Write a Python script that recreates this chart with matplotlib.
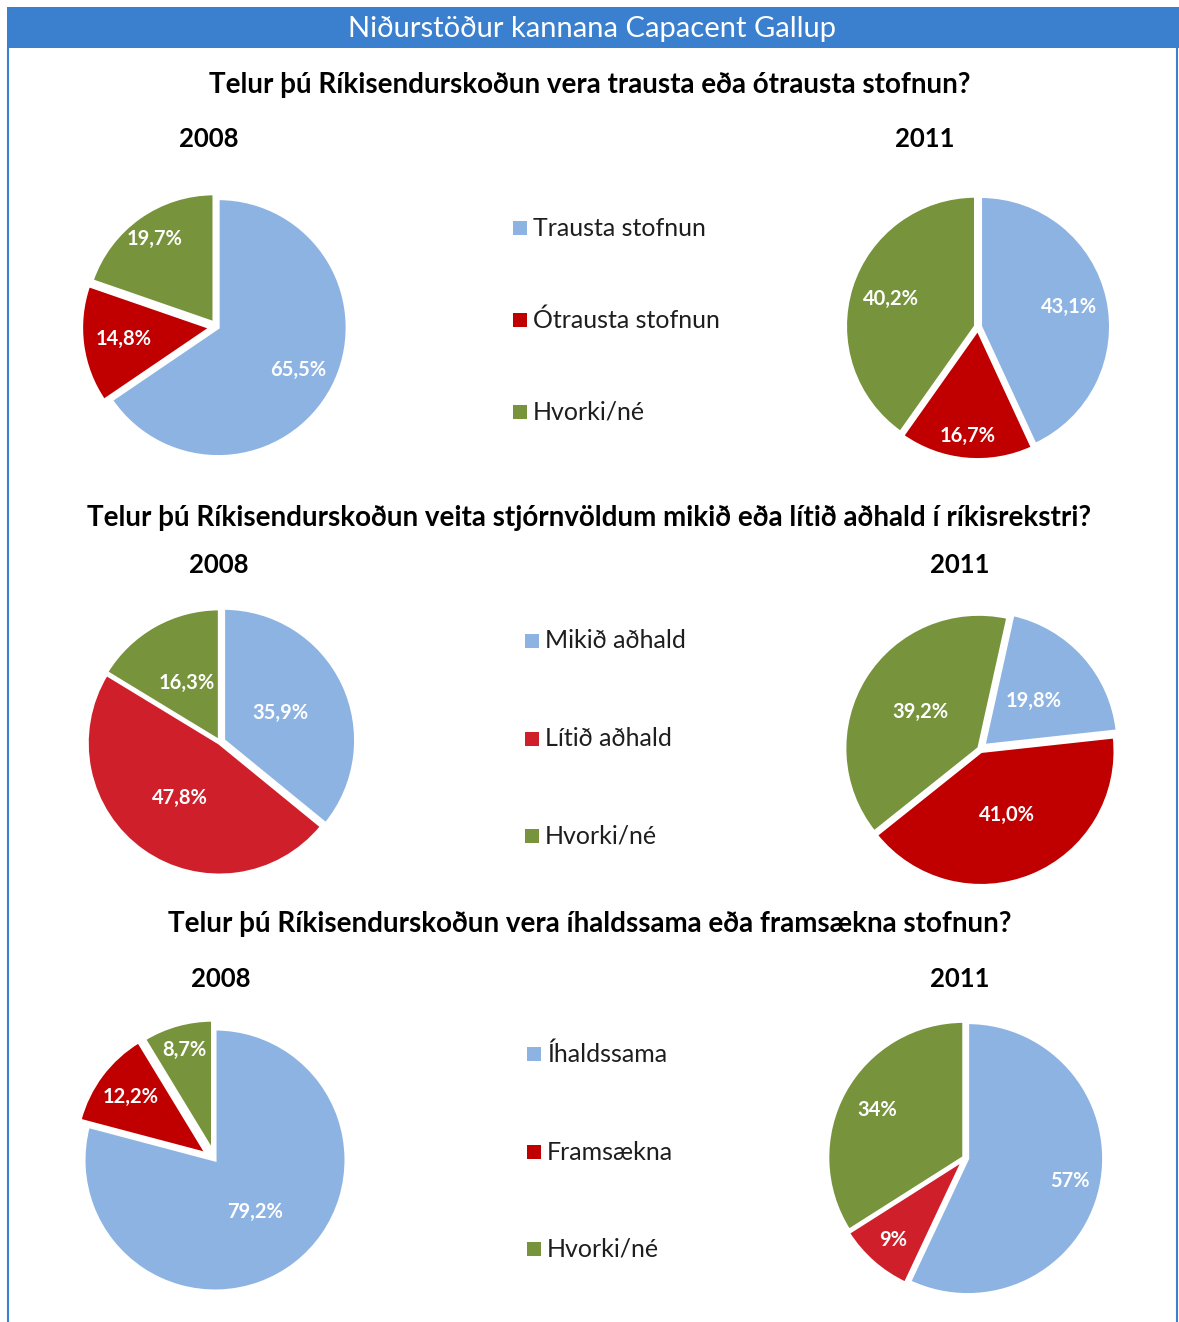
import matplotlib.pyplot as plt
from matplotlib.patches import Rectangle
import numpy as np

plt.rcParams['font.family'] = ['Lato', 'DejaVu Sans']

W, H = 1179, 1322

header = 'Niðurstöður kannana Capacent Gallup'
questions = [
    'Telur þú Ríkisendurskoðun vera trausta eða ótrausta stofnun?',
    'Telur þú Ríkisendurskoðun veita stjórnvöldum mikið eða lítið aðhald í ríkisrekstri?',
    'Telur þú Ríkisendurskoðun vera íhaldssama eða framsækna stofnun?',
]
years = ['2008', '2011']
legend_labels = [
    ['Trausta stofnun', 'Ótrausta stofnun', 'Hvorki/né'],
    ['Mikið aðhald', 'Lítið aðhald', 'Hvorki/né'],
    ['Íhaldssama', 'Framsækna', 'Hvorki/né'],
]

# survey results, percent (2008, 2011)
q1_2008 = [65.5, 14.8, 19.7]
q1_2011 = [43.1, 16.7, 40.2]
q2_2008 = [35.9, 47.8, 16.3]
q2_2011 = [19.8, 41.0, 39.2]
q3_2008 = [79.2, 12.2, 8.7]
q3_2011 = [57, 9, 34]

q3_2011_labels = ['57%', '9%', '34%']

BLUE = '#8DB3E2'
RED = '#C00000'
RED2 = '#CF1F2A'
GREEN = '#77933C'
HEAD = '#3A80CF'

fig = plt.figure(figsize=(W / 100, H / 100), dpi=100)
ax = fig.add_axes([0, 0, 1, 1])


def fmt(v):
    return ('%.1f%%' % v).replace('.', ',')


def draw_pie(vals, labels, cx, cy, r, start, explode, colors, dists):
    # explode is given as fraction of radius, pie wants data units
    wedges, _ = ax.pie(vals, colors=colors, startangle=start, counterclock=False,
                       explode=[e * r for e in explode], center=(cx, H - cy), radius=r,
                       frame=True, wedgeprops=dict(edgecolor='white', linewidth=2.2))
    for w, lab, d in zip(wedges, labels, dists):
        mid = np.deg2rad((w.theta1 + w.theta2) / 2)
        x = w.center[0] + d * r * np.cos(mid)
        y = w.center[1] + d * r * np.sin(mid)
        ax.text(x, y, lab, color='white', fontsize=14.5, fontweight='bold',
                ha='center', va='center')
    return wedges


rows = [
    dict(d08=q1_2008, d11=q1_2011, l11=[fmt(v) for v in q1_2011],
         c08=(217, 327), r08=129, c11=(978, 327), r11=130, s11=90,
         e08=[0.01, 0.05, 0.04], e11=[0.02, 0.02, 0.02],
         col08=[BLUE, RED, GREEN], col11=[BLUE, RED, GREEN],
         dist08=[0.70, 0.68, 0.80], dist11=[0.70, 0.82, 0.68],
         ty=85, yy=139, yx=(209, 925), lx=513, ly=(228, 320, 412), lcol=[BLUE, RED, GREEN]),
    dict(d08=q2_2008, d11=q2_2011, l11=[fmt(v) for v in q2_2011],
         c08=(220, 742), r08=132, c11=(980, 749), r11=134, s11=77.5,
         e08=[0.03, 0.01, 0.01], e11=[0.04, 0.02, 0.01],
         col08=[BLUE, RED2, GREEN], col11=[BLUE, RED, GREEN],
         dist08=[0.48, 0.51, 0.50], dist11=[0.50, 0.51, 0.51],
         ty=518, yy=565, yx=(219, 960), lx=525, ly=(641, 739, 836), lcol=[BLUE, RED2, GREEN]),
    dict(d08=q3_2008, d11=q3_2011, l11=q3_2011_labels,
         c08=(215, 1160), r08=131, c11=(965, 1158), r11=136, s11=90,
         e08=[0.0, 0.08, 0.07], e11=[0.02, 0.02, 0.01],
         col08=[BLUE, RED, GREEN], col11=[BLUE, RED2, GREEN],
         dist08=[0.50, 0.72, 0.80], dist11=[0.77, 0.78, 0.73],
         ty=924, yy=979, yx=(221, 960), lx=527, ly=(1054, 1152, 1249), lcol=[BLUE, RED, GREEN]),
]

for q, row, legs in zip(questions, rows, legend_labels):
    draw_pie(row['d08'], [fmt(v) for v in row['d08']], row['c08'][0], row['c08'][1],
             row['r08'], 90, row['e08'], row['col08'], row['dist08'])
    draw_pie(row['d11'], row['l11'], row['c11'][0], row['c11'][1],
             row['r11'], row['s11'], row['e11'], row['col11'], row['dist11'])
    ax.text(W / 2, H - row['ty'], q, fontsize=20, fontweight='bold',
            ha='center', va='center', color='black')
    for yr, x in zip(years, row['yx']):
        ax.text(x, H - row['yy'], yr, fontsize=18.5, fontweight='bold',
                ha='center', va='center', color='black')
    for lab, c, y in zip(legs, row['lcol'], row['ly']):
        ax.add_patch(Rectangle((row['lx'], H - y - 7), 14, 14, facecolor=c, edgecolor='none'))
        ax.text(row['lx'] + 20, H - y, lab, fontsize=18, ha='left', va='center', color='#1e1e1e')

# header band and frame
ax.add_patch(Rectangle((7, H - 48), W - 7, 41, facecolor=HEAD, edgecolor='none'))
ax.text(592, H - 29, header, fontsize=21, color='white', ha='center', va='center')
ax.plot([8, 8], [0, H - 48], color=HEAD, lw=1.5)
ax.plot([1177, 1177], [0, H - 48], color=HEAD, lw=1.5)

ax.set_xlim(0, W)
ax.set_ylim(0, H)
ax.axis('off')

fig.savefig('out.png', dpi=100)
